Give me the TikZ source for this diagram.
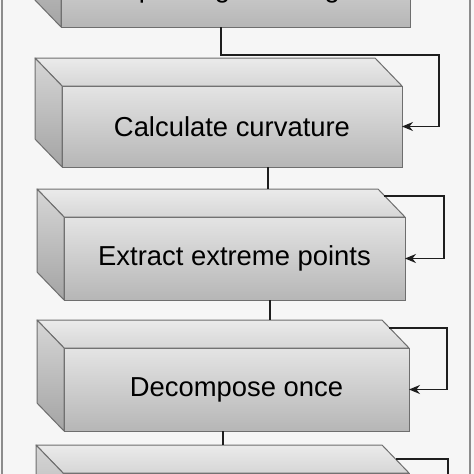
\documentclass[tikz,border=0pt]{standalone}
\usepackage{fontspec}
\setmainfont{Liberation Sans}
\usetikzlibrary{calc,arrows.meta}
\definecolor{bgcol}{HTML}{F6F6F6}
\definecolor{framecol}{HTML}{8C8C8C}
\definecolor{edgecol}{HTML}{6E6E6E}
\definecolor{fronttop}{HTML}{E4E4E4}
\definecolor{frontbot}{HTML}{B6B6B6}
\definecolor{toptop}{HTML}{EBEBEB}
\definecolor{topbot}{HTML}{D6D6D6}
\definecolor{sidetop}{HTML}{D6D6D6}
\definecolor{sidebot}{HTML}{A4A4A4}
\definecolor{linecol}{HTML}{1E1E1E}
\tikzset{
  front/.style={draw=edgecol, line width=1pt, top color=fronttop, bottom color=frontbot,
    inner sep=0pt, outer sep=0pt, minimum height=83pt,
    font=\fontsize{27.4}{32}\selectfont, text=black},
  topface/.style={draw=edgecol, line width=1pt, top color=toptop, bottom color=topbot, line join=round},
  sideface/.style={draw=edgecol, line width=1pt, top color=sidetop, bottom color=sidebot, line join=round},
  conn/.style={draw=linecol, line width=1.3pt},
  loopconn/.style={conn, -{Stealth[length=11pt,width=9pt]}},
}
\newcommand{\cubefaces}[1]{%
  \path[topface] (#1.north west) -- ++(-27,-28) -- ($(#1.north east)+(-27,-28)$) -- (#1.north east) -- cycle;
  \path[sideface] (#1.north west) -- ++(-27,-28) -- ($(#1.south west)+(-27,-28)$) -- (#1.south west) -- cycle;
}
\begin{document}
\begin{tikzpicture}[x=1pt,y=-1pt]
\useasboundingbox (0,0) rectangle (474,474);
\fill[bgcol] (0,0) rectangle (474,474);
\draw[framecol, line width=2pt] (2,-5) -- (2,480);
\draw[framecol, line width=2pt] (470,-5) -- (470,480);

% front faces
\node[front, minimum width=349pt] (f1) at (235.5,-14.5) {\raisebox{-12pt}[0pt][0pt]{Input original image}};
\node[front, minimum width=340pt, minimum height=81pt] (f2) at (232,126.5) {Calculate curvature};
\node[front, minimum width=341pt] (f3) at (234.5,258.5) {Extract extreme points};
\node[front, minimum width=345pt] (f4) at (236.5,389.5) {Decompose once};
\node[front, minimum width=346pt] (f5) at (236,514.5) {};

\cubefaces{f1}
\cubefaces{f2}
\cubefaces{f3}
\cubefaces{f4}
\cubefaces{f5}

% helper coordinates
\coordinate (j1) at (221,55);
\coordinate (r1) at (439,55);
\coordinate (a2) at (268,0);
\coordinate (t3) at ($(f3.north west)+(-27,-28)$);
\coordinate (s3) at ($(f3.north east)+(-21,-21)$);
\coordinate (r3) at (444,0);
\coordinate (a3) at (270,0);
\coordinate (t4) at ($(f4.north west)+(-27,-28)$);
\coordinate (s4) at ($(f4.north east)+(-20,-20)$);
\coordinate (r4) at (447,0);
\coordinate (a4) at (223,0);
\coordinate (t5) at ($(f5.north west)+(-27,-28)$);
\coordinate (s5) at ($(f5.north east)+(-13,-14)$);
\coordinate (r5) at (448,0);
\coordinate (e5) at (448,490);

% connectors
\draw[loopconn] (f1.south -| j1) -- (j1) -- (r1) |- (f2.east);
\draw[conn] (f2.south -| a2) -- (t3 -| a2);
\draw[loopconn] (s3) -- (s3 -| r3) |- (f3.east);
\draw[conn] (f3.south -| a3) -- (t4 -| a3);
\draw[loopconn] (s4) -- (s4 -| r4) |- (f4.east);
\draw[conn] (f4.south -| a4) -- (t5 -| a4);
\draw[conn] (s5) -- (s5 -| r5) -- (e5);
\end{tikzpicture}
\end{document}
